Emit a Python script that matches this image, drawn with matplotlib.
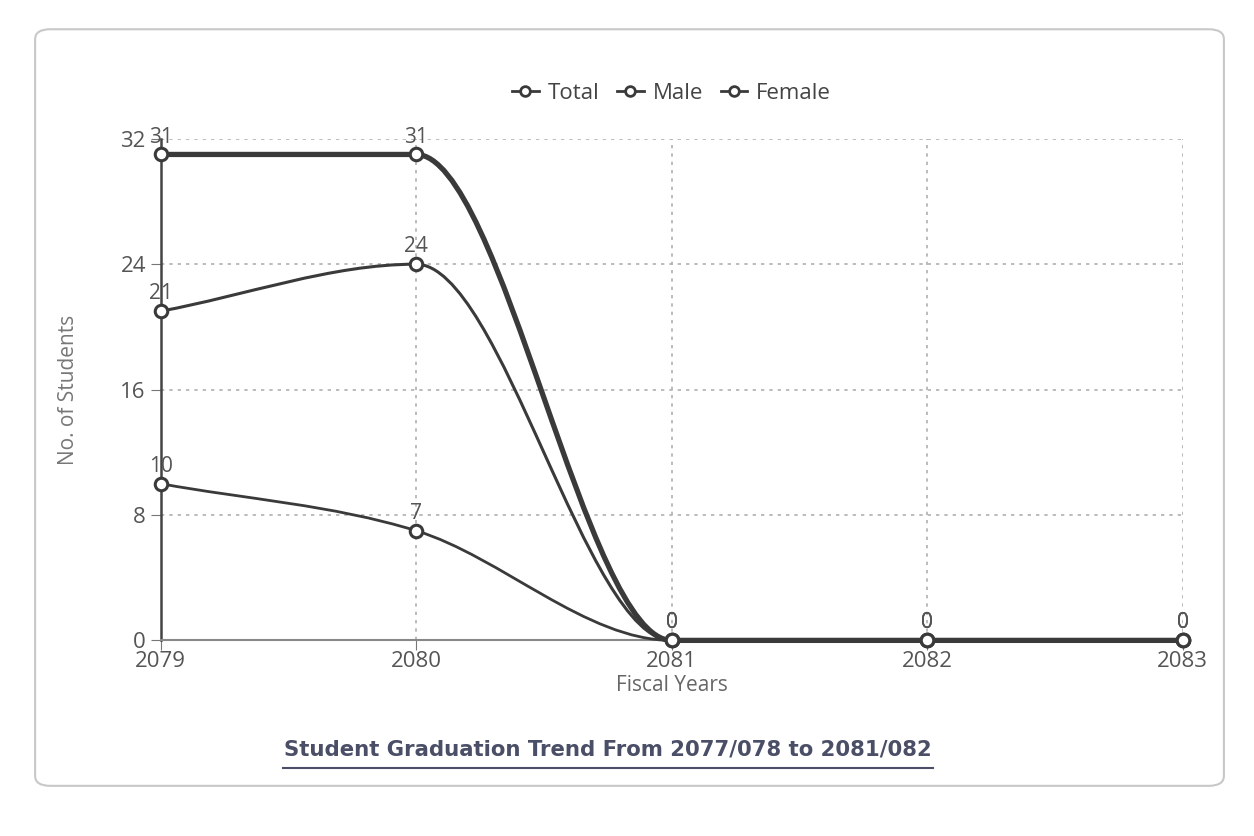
import numpy as np
import matplotlib
matplotlib.use("Agg")
import matplotlib.pyplot as plt
from matplotlib.path import Path
from matplotlib.patches import PathPatch, FancyBboxPatch
from matplotlib.lines import Line2D

plt.rcParams['font.family'] = ['Open Sans', 'DejaVu Sans']

years = [2079, 2080, 2081, 2082, 2083]
total = [31, 31, 0, 0, 0]
male = [21, 24, 0, 0, 0]
female = [10, 7, 0, 0, 0]
series_names = ["Total", "Male", "Female"]
y_ticks = [0, 8, 16, 24, 32]


def monotone_path(xs, ys):
    # same idea as chart.js "monotone" curves
    xs = np.asarray(xs, float)
    ys = np.asarray(ys, float)
    n = len(xs)
    delta = np.diff(ys) / np.diff(xs)
    m = np.zeros(n)
    m[0] = delta[0]
    m[-1] = delta[-1]
    for i in range(1, n - 1):
        if delta[i - 1] == 0 or delta[i] == 0 or np.sign(delta[i - 1]) != np.sign(delta[i]):
            m[i] = 0
        else:
            m[i] = (delta[i - 1] + delta[i]) / 2
    for i in range(n - 1):
        if delta[i] == 0:
            m[i] = m[i + 1] = 0
            continue
        a = m[i] / delta[i]
        b = m[i + 1] / delta[i]
        s = a * a + b * b
        if s > 9:
            t = 3 / np.sqrt(s)
            m[i] = a * t * delta[i]
            m[i + 1] = b * t * delta[i]
    verts = [(xs[0], ys[0])]
    codes = [Path.MOVETO]
    for i in range(n - 1):
        dx = (xs[i + 1] - xs[i]) / 3
        verts += [(xs[i] + dx, ys[i] + m[i] * dx),
                  (xs[i + 1] - dx, ys[i + 1] - m[i + 1] * dx),
                  (xs[i + 1], ys[i + 1])]
        codes += [Path.CURVE4] * 3
    return Path(verts, codes)


fig = plt.figure(figsize=(12.54, 8.36), dpi=100)
fig.patch.set_facecolor("white")

# card border
card = FancyBboxPatch((0.028, 0.06), 0.948, 0.905, boxstyle="round,pad=0,rounding_size=0.012",
                      transform=fig.transFigure, facecolor="none", edgecolor="#c8c8c8",
                      linewidth=1.5, zorder=-10)
fig.patches.append(card)

ax = fig.add_axes([0.128, 0.234, 0.815, 0.600])
ax.patch.set_alpha(0)

line_color = "#3a3a3a"
widths = [3.8, 2.2, 2.0]
all_series = [total, male, female]

for vals, lw in zip(all_series, widths):
    patch = PathPatch(monotone_path(years, vals), facecolor="none", edgecolor=line_color,
                      linewidth=lw, zorder=3, clip_on=False)
    ax.add_patch(patch)
    ax.plot(years, vals, linestyle="none", marker="o", markersize=9, markerfacecolor="white",
            markeredgecolor=line_color, markeredgewidth=2.2, zorder=4, clip_on=False)
    for x, v in zip(years, vals):
        ax.annotate(str(v), (x, v), xytext=(0, 5), textcoords="offset points",
                    ha="center", va="bottom", fontsize=15, color="#555555", zorder=5)

ax.set_xlim(2079, 2083)
ax.set_ylim(0, 32)
ax.set_xticks(years)
ax.set_yticks(y_ticks)
ax.tick_params(axis="both", labelsize=16, labelcolor="#555555", color="#777777", length=7)
ax.tick_params(axis="x", pad=1)
ax.grid(True, linestyle=(0, (2, 3)), color="#b0b0b0", linewidth=1.2)
ax.set_axisbelow(True)
for side in ["top", "right"]:
    ax.spines[side].set_visible(False)
ax.spines["left"].set_color("#444444")
ax.spines["left"].set_linewidth(1.8)
ax.spines["bottom"].set_color("#888888")
ax.spines["bottom"].set_linewidth(1.5)

ax.set_ylabel("No. of Students", fontsize=15, color="#777777", labelpad=30)
ax.set_xlabel("Fiscal Years", fontsize=15, color="#666666", labelpad=2)

handles = [Line2D([0], [0], color=line_color, linewidth=2, marker="o", markersize=7,
                  markerfacecolor="white", markeredgecolor=line_color, markeredgewidth=2)
           for _ in series_names]
ax.legend(handles, series_names, loc="lower center", bbox_to_anchor=(0.5, 1.03), ncol=3,
          frameon=False, fontsize=16, handlelength=1.2, handletextpad=0.4, columnspacing=0.8,
          labelcolor="#444444")

fig.text(0.485, 0.103, "Student Graduation Trend From 2077/078 to 2081/082", ha="center",
         va="center", fontsize=15.3, fontweight="bold", color="#4a4e66", family="DejaVu Sans")
fig.add_artist(Line2D([0.226, 0.744], [0.081, 0.081], color="#4a4e66", linewidth=1.5,
                      transform=fig.transFigure))

fig.savefig("out.png", dpi=100)
